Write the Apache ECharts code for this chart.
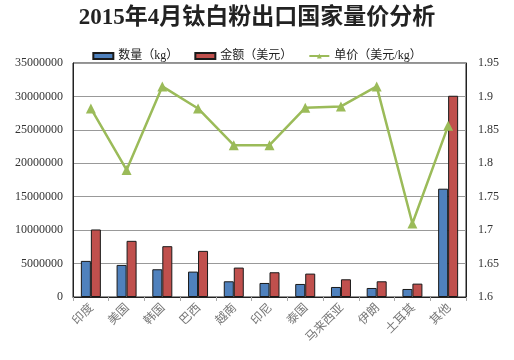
<!DOCTYPE html>
<html><head><meta charset="utf-8">
<script src="https://cdn.jsdelivr.net/npm/echarts@6/dist/echarts.min.js"></script>
<style>html,body{margin:0;padding:0;background:#fff}#c{width:514px;height:360px}</style>
</head><body><div id="c"></div>
<script>
const categories = ['印度','美国','韩国','巴西','越南','印尼','泰国','马来西亚','伊朗','土耳其','其他'];
const quantity = [5400000,4800000,4150000,3800000,2350000,2100000,1950000,1500000,1350000,1200000,16200000];
const amount = [10100000,8400000,7600000,6900000,4400000,3700000,3500000,2650000,2350000,2000000,30100000];
const unitPrice = [1.882,1.79,1.915,1.882,1.827,1.827,1.883,1.885,1.915,1.71,1.856];
const seriesNames = ['数量（kg）','金额（美元）','单价（美元/kg）'];
const titleText = '2015年4月钛白粉出口国家量价分析';

const serif = '"Liberation Serif","Noto Sans CJK SC",serif';
const chart = echarts.init(document.getElementById('c'));
chart.setOption({
  animation:false,
  title:{text:titleText,left:'center',top:2,textStyle:{fontFamily:serif,fontWeight:'bold',fontSize:23,color:'#222'}},
  legend:{top:45,left:'center',itemWidth:20,itemHeight:6,itemGap:16,
    textStyle:{fontFamily:serif,fontSize:12,color:'#222'},
    data:[{name:seriesNames[0],icon:'rect'},{name:seriesNames[1],icon:'rect'},{name:seriesNames[2]}]},
  grid:{left:73,right:48,top:63,bottom:63,show:true,borderColor:'#222',borderWidth:1},
  xAxis:{type:'category',data:categories,
    axisLine:{lineStyle:{color:'#222'}},
    axisTick:{show:true,alignWithLabel:false,length:4,lineStyle:{color:'#aaa'}},
    axisLabel:{rotate:45,fontSize:12,color:'#777',fontFamily:'"Noto Sans CJK SC",serif',margin:8,interval:0}},
  yAxis:[
    {type:'value',min:0,max:35000000,interval:5000000,
     axisLine:{show:true,lineStyle:{color:'#222'}},axisTick:{show:false},
     splitLine:{lineStyle:{color:'#999'}},
     axisLabel:{fontFamily:serif,fontSize:12,color:'#333',margin:10,formatter:v=>String(v)}},
    {type:'value',min:1.6,max:1.95,interval:0.05,
     axisLine:{show:true,lineStyle:{color:'#222'}},axisTick:{show:false},splitLine:{show:false},
     axisLabel:{fontFamily:serif,fontSize:12,color:'#333',margin:12,formatter:v=>String(+v.toFixed(2))}}
  ],
  series:[
    {name:seriesNames[0],type:'bar',data:quantity,barWidth:10,barGap:'0%',barCategoryGap:'44%',
     itemStyle:{color:'#4F81BD',borderColor:'#1a1a1a',borderWidth:1}},
    {name:seriesNames[1],type:'bar',data:amount,barWidth:10,barGap:'0%',
     itemStyle:{color:'#C0504D',borderColor:'#1a1a1a',borderWidth:1}},
    {name:seriesNames[2],type:'line',yAxisIndex:1,data:unitPrice,symbol:'triangle',symbolSize:10,
     lineStyle:{color:'#9BBB59',width:2.5},itemStyle:{color:'#9BBB59'}}
  ]
});
</script></body></html>
